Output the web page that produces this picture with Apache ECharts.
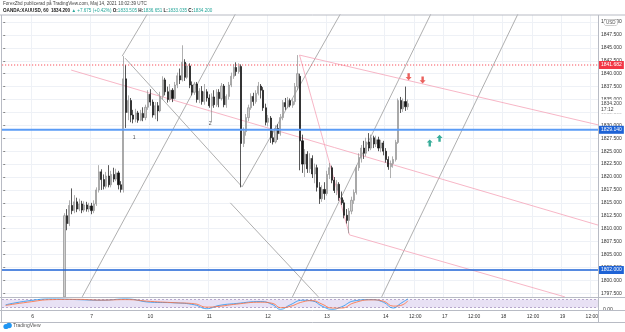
<!DOCTYPE html>
<html>
<head>
<meta charset="utf-8">
<style>html,body{margin:0;padding:0;background:#fff}#chart{width:625px;height:332px}</style>
<script src="https://cdn.jsdelivr.net/npm/echarts@6/dist/echarts.min.js"></script>
</head>
<body>
<div id="chart"></div>
<script>
// hourly slots on the time axis (trading hours only)
const slotCount = 243;
const timeLabels = ['6', '7', '10', '11', '12', '13', '14', '12:00', '17', '12:00', '18', '12:00', '19', '12:00'];
const timeLabelIndex = [12, 36, 60, 84, 108, 132, 156, 168, 180, 192, 204, 216, 228, 240];

const firstBar = 25;
// open, close, low, high
const ohlc = [
  [1796.8, 1812.5, 1796.8, 1813], [1812.5, 1811, 1809.7, 1813.8], [1811, 1814.5, 1810.5, 1815.5], [1814.5, 1813.5, 1812.8, 1817.8],
  [1813.5, 1815.2, 1813, 1816.5], [1815.2, 1813.8, 1813.2, 1816], [1813.8, 1814.8, 1813.4, 1815.8], [1814.8, 1813.6, 1813, 1815.4],
  [1813.6, 1814.6, 1813.2, 1815.3], [1814.6, 1813.8, 1813.3, 1815.2], [1813.8, 1814.4, 1813.2, 1815], [1814.4, 1813.5, 1812.8, 1815],
  [1813.5, 1814.8, 1813, 1815.5], [1814.8, 1817.5, 1814.4, 1818], [1817.5, 1821, 1817, 1822.3], [1821, 1819.5, 1817.5, 1821.5],
  [1819.5, 1818.2, 1817.6, 1820.5], [1818.2, 1820.2, 1817.8, 1821], [1820.2, 1818.5, 1818, 1822.3], [1818.5, 1820.5, 1818, 1821.2],
  [1820.5, 1819.6, 1819, 1821.8], [1819.6, 1820.8, 1819.2, 1821.6], [1820.8, 1818.5, 1817.6, 1821.2], [1818.5, 1817.6, 1817, 1819.2],
  [1817.6, 1839, 1817, 1843.4], [1839, 1832.5, 1829.5, 1841.7], [1832.5, 1834.8, 1831, 1835.8], [1834.8, 1832, 1830.6, 1835.3],
  [1832, 1831.2, 1830.4, 1833], [1831.2, 1832.4, 1830.6, 1833.2], [1832.4, 1831, 1830.5, 1832.8], [1831, 1832.3, 1830.8, 1833],
  [1832.3, 1831.5, 1830.8, 1833.5], [1831.5, 1833.5, 1831, 1834], [1833.5, 1836, 1833, 1836.8], [1836, 1834.5, 1833.8, 1837],
  [1834.5, 1832, 1831.5, 1835], [1832, 1833.8, 1831.2, 1834.5], [1833.8, 1832.8, 1830.8, 1834.5], [1832.8, 1835.6, 1832.5, 1836.5],
  [1835.6, 1838.8, 1835, 1839.5], [1838.8, 1836.5, 1835.8, 1839.2], [1836.5, 1835, 1834.4, 1837.5], [1835, 1836.8, 1834.6, 1838],
  [1836.8, 1835.2, 1834.5, 1837.2], [1835.2, 1837.8, 1835, 1838.4], [1837.8, 1839.6, 1837.2, 1840.2], [1839.6, 1838.8, 1838, 1841],
  [1838.8, 1842.2, 1838.5, 1845.5], [1842.2, 1839.3, 1838.6, 1842.8], [1839.3, 1841.5, 1839, 1842], [1841.5, 1837.8, 1837.2, 1842],
  [1837.8, 1836.4, 1835.8, 1838.5], [1836.4, 1838, 1835.9, 1838.4], [1838, 1835, 1834.4, 1838.4], [1835, 1836.6, 1834.3, 1837.2],
  [1836.6, 1834.6, 1834, 1837.6], [1834.6, 1836.5, 1834, 1838], [1836.5, 1835.3, 1834.6, 1837], [1835.3, 1833.8, 1833.4, 1836],
  [1833.8, 1835.5, 1830.6, 1836.2], [1835.5, 1834, 1833.4, 1836.8], [1834, 1836.4, 1833.6, 1837], [1836.4, 1835.2, 1833.5, 1837],
  [1835.2, 1837.6, 1834.8, 1838.2], [1837.6, 1834, 1833.5, 1838], [1834, 1835.6, 1833.4, 1836], [1835.6, 1837.8, 1835, 1838.4],
  [1837.8, 1839.5, 1837.4, 1840.2], [1839.5, 1841.2, 1839, 1841.8], [1841.2, 1840.4, 1839.6, 1842.2], [1840.4, 1841.4, 1840, 1842],
  [1841.4, 1826.5, 1818, 1841.8], [1826.5, 1828.8, 1825.8, 1829.6], [1828.8, 1831.5, 1828, 1832.2], [1831.5, 1833.4, 1830.8, 1834],
  [1833.4, 1835.6, 1833, 1836.2], [1835.6, 1834.6, 1833.8, 1836.3], [1834.6, 1836.2, 1834.2, 1836.8], [1836.2, 1837.6, 1835.8, 1838.4],
  [1837.6, 1836.8, 1835.2, 1838], [1836.8, 1833.4, 1832.8, 1837.4], [1833.4, 1830.6, 1830, 1834.2], [1830.6, 1831.4, 1829.8, 1832],
  [1831.4, 1827.6, 1826.6, 1831.8], [1827.6, 1826.8, 1826.3, 1829], [1826.8, 1829.4, 1826.5, 1830], [1829.4, 1828.4, 1827.2, 1830.2],
  [1828.4, 1831.5, 1828, 1832.2], [1831.5, 1834.4, 1831, 1834.9], [1834.4, 1833.6, 1833, 1835.3], [1833.6, 1834.8, 1833.3, 1835.5],
  [1834.8, 1833.9, 1833.5, 1835.2], [1833.9, 1834.6, 1833.4, 1835.2], [1834.6, 1837.5, 1834, 1838.2], [1837.5, 1840, 1836.8, 1843.6],
  [1839.5, 1827, 1821.3, 1840], [1827, 1822.5, 1820.8, 1828.2], [1822.5, 1824.4, 1820, 1825.4], [1824.4, 1821.6, 1820.8, 1825],
  [1821.6, 1823.6, 1820.8, 1824.6], [1823.6, 1820.6, 1819.8, 1824.2], [1820.6, 1821.8, 1818.8, 1822.6], [1821.8, 1818, 1817.2, 1822.4],
  [1818, 1815.8, 1814.8, 1819], [1815.8, 1817.6, 1815.2, 1818.4], [1817.6, 1816.8, 1815.6, 1819], [1816.8, 1820.5, 1816.4, 1821.2],
  [1820.5, 1821.8, 1819.6, 1822.7], [1821.8, 1819.4, 1818.8, 1822.2], [1819.4, 1817.4, 1816.9, 1820], [1817.4, 1818.6, 1816.5, 1819.4],
  [1818.6, 1816, 1815.4, 1819], [1816, 1815, 1814.6, 1817.2], [1815, 1812.6, 1812, 1815.6], [1812.6, 1811.6, 1811, 1813.8],
  [1811.6, 1813.4, 1809.1, 1814], [1813.4, 1815.5, 1812.8, 1816.2], [1815.5, 1817, 1814.8, 1817.6], [1817, 1821.8, 1816.6, 1822.3],
  [1821.8, 1823.8, 1821.2, 1824.6], [1823.8, 1825.6, 1822.8, 1826.2], [1825.6, 1824.6, 1823.5, 1827], [1824.6, 1826.8, 1824, 1827.6],
  [1826.8, 1825.6, 1825, 1828.5], [1825.6, 1827.6, 1825.2, 1828.2], [1827.6, 1826.4, 1825.6, 1828], [1826.4, 1827.2, 1825.8, 1828],
  [1827.2, 1825.6, 1825, 1827.8], [1825.6, 1826.6, 1824.8, 1827.2], [1826.6, 1825, 1824.2, 1827], [1825, 1823.4, 1822.8, 1825.6],
  [1823.4, 1822, 1821.4, 1824], [1822, 1822.6, 1819.8, 1823.2], [1822.6, 1823.4, 1821.8, 1824], [1823.4, 1826.7, 1823, 1827.2],
  [1826.7, 1834.8, 1826.4, 1835.2], [1834.8, 1833.2, 1832.4, 1835.5], [1833.2, 1834.6, 1832.6, 1835.2], [1834.6, 1833.6, 1832.8, 1837.5],
  [1833.6, 1834.2, 1833, 1835]
];

// horizontal levels
const resistance = 1841.682;
const support = 1829.14;
const lowLevel = 1802.0;
const lastPrice = 1834.2;

// trend line drawings, [slot, price] end points
const grayLines = [
  [[49.7, 1843.0], [97.4, 1818.1]],
  [[97.4, 1818.1], [137.4, 1851.5]],
  [[32.2, 1796.8], [94.6, 1851.5]],
  [[48.5, 1843.4], [58.7, 1851.5]],
  [[92.6, 1815.0], [128.5, 1796.8]],
  [[117.9, 1796.8], [174.3, 1851.5]],
  [[154.3, 1796.8], [209.8, 1851.5]]
];
const pinkLines = [
  [[120.8, 1843.6], [242.5, 1830.1]],
  [[27.7, 1840.7], [242.5, 1810.7]],
  [[141.2, 1808.8], [229, 1796.8]],
  [[120.8, 1843.6], [141.2, 1808.8]]
];
const downArrows = [[165.3, 1839.4], [171.0, 1838.8]];
const upArrows = [[173.9, 1826.6], [177.9, 1827.5]];
const waveMarks = [[53.4, 1827.7, '1'], [84.4, 1830.3, '2']];

// stochastic RSI pane, [slot, value]
const stochK = [[1, 40], [10, 70], [20, 85], [30, 80], [40, 75], [50, 85], [60, 60], [70, 55], [78, 40], [83, 10], [88, 35], [95, 50],
  [105, 65], [110, 40], [113, 5], [117, 40], [122, 75], [126, 70], [130, 30], [134, 5], [138, 25], [143, 70], [150, 80], [155, 60],
  [159, 15], [162, 50], [165, 85]];
const stochD = [[1, 35], [10, 60], [20, 80], [30, 82], [40, 76], [50, 80], [60, 66], [70, 56], [78, 48], [83, 22], [88, 28], [95, 45],
  [105, 60], [110, 50], [113, 18], [117, 28], [122, 62], [126, 72], [130, 45], [134, 15], [138, 15], [143, 55], [150, 78], [155, 68],
  [159, 30], [162, 35], [165, 70]];

const cats = Array.from({ length: slotCount }, (_, i) => {
  const k = timeLabelIndex.indexOf(i);
  return k >= 0 ? timeLabels[k] : '';
});
const showLabel = (i) => cats[i] !== '';
const font = 'Liberation Sans, Arial, sans-serif';

const chart = echarts.init(document.getElementById('chart'), null, { renderer: 'canvas' });

const badge = (text, bg, fg, dy) => ({
  show: true, position: 'end', distance: 1, formatter: text, color: fg || '#fff', backgroundColor: bg,
  fontSize: 5, fontFamily: font, padding: [1, 2, 1, 2], lineHeight: 6, offset: [0, dy || 0]
});

const drawSeries = (lines, color) => lines.map(l => ({
  type: 'line', xAxisIndex: 2, yAxisIndex: 0, data: l, showSymbol: false, silent: true,
  lineStyle: { color: color, width: 0.8 }, z: 3
}));

// horizontal level: line drawn as a series, price badge from a markLine label
const levelSeries = (value, color, type, width, label) => ({
  type: 'line', xAxisIndex: 2, yAxisIndex: 0, silent: true, z: 5, showSymbol: false,
  data: [[-0.5, value], [slotCount - 0.5, value]],
  lineStyle: { color: color, type: type, width: width },
  markLine: {
    symbol: 'none', silent: true, animation: false,
    lineStyle: { color: 'rgba(0,0,0,0)', width: 1 },
    label: label,
    data: [{ yAxis: value }]
  }
});

chart.setOption({
  animation: false,
  backgroundColor: '#fff',
  grid: [
    { left: 2, top: 9.1, width: 596, height: 297.1 },
    { left: 2, top: 297, width: 596, height: 13 }
  ],
  xAxis: [
    { type: 'category', gridIndex: 0, data: cats, boundaryGap: true, axisLine: { show: false }, axisTick: { show: false },
      axisLabel: { show: false }, splitLine: { show: true, interval: showLabel, lineStyle: { color: '#eef1f6', width: 1 } } },
    { type: 'category', gridIndex: 1, data: cats, boundaryGap: true, axisLine: { show: false }, axisTick: { show: false },
      axisLabel: { show: true, interval: showLabel, fontSize: 5, color: '#333', fontFamily: font, margin: 4 },
      splitLine: { show: false } },
    { type: 'value', gridIndex: 0, min: -0.5, max: slotCount - 0.5, show: false }
  ],
  yAxis: [
    { type: 'value', gridIndex: 0, position: 'right', min: 1795, max: 1852.5, interval: 2.5,
      axisLine: { show: false }, axisTick: { show: true, length: 2, lineStyle: { color: '#888' } },
      axisLabel: { fontSize: 5, color: '#333', fontFamily: font, margin: 3,
        formatter: v => (v > 1851 || v < 1796) ? '' : v.toFixed(3) },
      splitLine: { lineStyle: { color: '#eef1f6', width: 1 } } },
    { type: 'value', gridIndex: 1, position: 'right', min: 0, max: 100, interval: 100,
      axisLine: { show: false }, axisTick: { show: false },
      axisLabel: { fontSize: 5, color: '#333', fontFamily: font, margin: 5, formatter: v => v === 0 ? '0.00' : '' },
      splitLine: { show: false } }
  ],
  graphic: { elements: [
    { type: 'rect', shape: { x: 0, y: 0, width: 625, height: 15 }, style: { fill: '#fff' }, z: 1 },
    { type: 'rect', shape: { x: 2, y: 297.5, width: 596, height: 12 }, style: { fill: '#fff' }, z: 1 },
    { type: 'text', x: 3, y: 1.5, z: 10, style: { text: 'ForexZbd publicerad på TradingView.com, Maj 14, 2021 10:02:39 UTC', fontSize: 4.6, fill: '#444', fontFamily: font } },
    { type: 'text', x: 3, y: 8, z: 10, style: { rich: {
        a: { fontSize: 4.6, fill: '#222', fontFamily: font, fontWeight: 'bold' },
        g: { fontSize: 4.6, fill: '#26a69a', fontFamily: font } },
      text: '{a|OANDA:XAUUSD, 60  1834.200 }{g|▲ +7.675 (+0.42%)}{a| O:}{g|1833.505}{a| H:}{g|1836.651}{a| L:}{g|1833.035}{a| C:}{g|1834.200}' } },
    { type: 'line', z: 10, shape: { x1: 0, y1: 15, x2: 625, y2: 15 }, style: { stroke: '#b8bbc4', lineWidth: 1 } },
    { type: 'line', z: 10, shape: { x1: 1.5, y1: 15, x2: 1.5, y2: 322 }, style: { stroke: '#b8bbc4', lineWidth: 1 } },
    { type: 'line', z: 10, shape: { x1: 598.5, y1: 15, x2: 598.5, y2: 322 }, style: { stroke: '#b8bbc4', lineWidth: 1 } },
    { type: 'line', z: 10, shape: { x1: 0, y1: 297.5, x2: 625, y2: 297.5 }, style: { stroke: '#b8bbc4', lineWidth: 1 } },
    { type: 'line', z: 10, shape: { x1: 0, y1: 310.5, x2: 625, y2: 310.5 }, style: { stroke: '#b8bbc4', lineWidth: 1 } },
    { type: 'line', z: 10, shape: { x1: 0, y1: 322.5, x2: 625, y2: 322.5 }, style: { stroke: '#b8bbc4', lineWidth: 1 } },
    { type: 'text', x: 604, y: 19.5, z: 10, style: { text: 'USD', fontSize: 4.5, fill: '#555', fontFamily: font,
      backgroundColor: '#fff', borderColor: '#999', borderWidth: 0.5, borderRadius: 3, padding: [0.5, 2] } },
    { type: 'circle', z: 10, shape: { cx: 6, cy: 326.5, r: 2.6 }, style: { fill: '#2196f3' } },
    { type: 'circle', z: 10, shape: { cx: 9, cy: 325.5, r: 2.8 }, style: { fill: '#2196f3' } },
    { type: 'text', x: 13, y: 323.5, z: 10, style: { text: 'TradingView', fontSize: 5, fill: '#555', fontFamily: font } }
  ] },
  series: [
    {
      type: 'candlestick', xAxisIndex: 0, yAxisIndex: 0, barWidth: 1.6, z: 4,
      data: ohlc.map((d, k) => [firstBar + k].concat(d)),
      encode: { x: 0, y: [1, 2, 3, 4] },
      itemStyle: { color: '#cfcfcf', borderColor: '#8e8e8e', color0: '#111', borderColor0: '#111', borderWidth: 0.7 }
    },
    levelSeries(resistance, '#f7525f', [1.2, 1.8], 1.2, badge(resistance.toFixed(3), '#f23645')),
    levelSeries(support, '#5b9cf6', 'solid', 2, badge(support.toFixed(3), '#1e63d6')),
    levelSeries(lowLevel, '#1e63d6', 'solid', 1.5, badge(lowLevel.toFixed(3), '#1e63d6')),
    levelSeries(lastPrice, 'rgba(0,0,0,0)', 'solid', 1, badge(lastPrice.toFixed(3) + '\n17:12', '#fff', '#444', 3)),
    ...drawSeries(grayLines, '#9a9a9a'),
    ...drawSeries(pinkLines, '#f5a3b8'),
    {
      type: 'scatter', xAxisIndex: 2, yAxisIndex: 0, data: downArrows, z: 6,
      symbol: 'path://M3,0L7,0L7,6L10,6L5,11L0,6L3,6Z', symbolSize: [6, 7], itemStyle: { color: '#e53935' }
    },
    {
      type: 'scatter', xAxisIndex: 2, yAxisIndex: 0, data: upArrows, z: 6,
      symbol: 'path://M5,0L10,5L7,5L7,11L3,11L3,5L0,5Z', symbolSize: [6, 7], itemStyle: { color: '#089981' }
    },
    {
      type: 'scatter', xAxisIndex: 2, yAxisIndex: 0, data: waveMarks, symbolSize: 0, z: 6,
      label: { show: true, formatter: p => p.data[2], fontSize: 5, color: '#222', fontFamily: font, position: 'inside' }
    },
    {
      type: 'line', xAxisIndex: 1, yAxisIndex: 1, data: stochK, smooth: true, showSymbol: false, z: 5,
      lineStyle: { color: '#2196f3', width: 0.8 },
      markArea: { silent: true, itemStyle: { color: 'rgba(149,117,205,0.22)' }, data: [[{ yAxis: 20 }, { yAxis: 80 }]] },
      markLine: { symbol: 'none', silent: true, label: { show: false },
        lineStyle: { color: '#9c88b8', type: [2, 2], width: 0.7 }, data: [{ yAxis: 20 }, { yAxis: 80 }] }
    },
    {
      type: 'line', xAxisIndex: 1, yAxisIndex: 1, data: stochD, smooth: true, showSymbol: false, z: 5,
      lineStyle: { color: '#ff6d3a', width: 0.8 }
    }
  ]
});
</script>
</body>
</html>
